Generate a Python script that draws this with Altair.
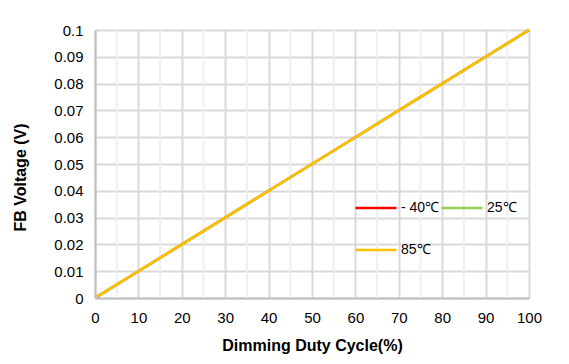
import altair as alt
import pandas as pd

duty = [0.5, 10, 20, 30, 40, 50, 60, 70, 80, 90, 100]
fb_m40 = [0.0005, 0.0100, 0.0200, 0.0300, 0.0400, 0.0500, 0.0600, 0.0700, 0.0800, 0.0900, 0.1000]
fb_25 = [0.0005, 0.0100, 0.0200, 0.0300, 0.0400, 0.0500, 0.0600, 0.0700, 0.0800, 0.0900, 0.1000]
fb_85 = [0.0005, 0.0100, 0.0200, 0.0300, 0.0400, 0.0500, 0.0600, 0.0700, 0.0800, 0.0900, 0.1000]
series = ["- 40℃", "25℃", "85℃"]
colors = ["#ff0000", "#92d050", "#ffc000"]
x_ticks = [0, 10, 20, 30, 40, 50, 60, 70, 80, 90, 100]
x_minor = [5, 15, 25, 35, 45, 55, 65, 75, 85, 95]
y_ticks = [0, 0.01, 0.02, 0.03, 0.04, 0.05, 0.06, 0.07, 0.08, 0.09, 0.1]

rows = []
for name, vals in zip(series, [fb_m40, fb_25, fb_85]):
    for i, (x, y) in enumerate(zip(duty, vals)):
        rows.append({"duty": x, "fb": y, "series": name, "order": series.index(name)})
df = pd.DataFrame(rows)

font = "Liberation Sans"

xscale = alt.Scale(domain=[0, 100], nice=False)
yscale = alt.Scale(domain=[0, 0.1], nice=False)

minor = alt.Chart(pd.DataFrame({"m": x_minor})).mark_rule(
    color="#efefef", strokeWidth=2
).encode(x=alt.X("m:Q", scale=xscale))

lines = alt.Chart(df).mark_line(strokeWidth=2.5).encode(
    x=alt.X(
        "duty:Q",
        scale=xscale,
        axis=alt.Axis(
            values=x_ticks,
            title="Dimming Duty Cycle(%)",
            grid=True,
            gridColor="#d9d9d9",
            gridWidth=2,
            ticks=False,
            domainColor="#bfbfbf",
            domainWidth=2,
            labelPadding=12,
            labelFlush=False,
            titlePadding=12,
        ),
    ),
    y=alt.Y(
        "fb:Q",
        scale=yscale,
        axis=alt.Axis(
            values=y_ticks,
            format=".2~f",
            title="FB Voltage (V)",
            grid=True,
            gridColor="#d9d9d9",
            gridWidth=2,
            ticks=False,
            domainColor="#bfbfbf",
            domainWidth=2,
            labelPadding=12,
            labelFlush=False,
            titlePadding=25,
            titleY=147,
        ),
    ),
    color=alt.Color(
        "series:N",
        scale=alt.Scale(domain=series, range=colors),
        legend=alt.Legend(
            title=None,
            orient="none",
            direction="horizontal",
            legendX=259,
            legendY=156,
            columns=2,
            symbolType="stroke",
            symbolSize=1681,
            symbolStrokeWidth=2.5,
            rowPadding=13,
            columnPadding=-4,
            labelOffset=3,
            labelFontSize=14,
            labelFont=font,
            labelColor="#000000",
        ),
    ),
    order=alt.Order("order:Q"),
    detail="series:N",
)

chart = (
    alt.layer(minor, lines)
    .properties(
        width=434,
        height=268,
        autosize=alt.AutoSizeParams(type="none"),
        padding={"left": 87, "top": 22, "right": 30, "bottom": 56},
    )
    .configure_view(stroke=None)
    .configure_axis(
        labelFont=font,
        labelFontSize=15,
        labelColor="#000000",
        titleFont=font,
        titleFontSize=16,
        titleFontWeight="bold",
        titleColor="#000000",
    )
)

chart.save("out.html", embed_options={"renderer": "svg", "actions": False})
